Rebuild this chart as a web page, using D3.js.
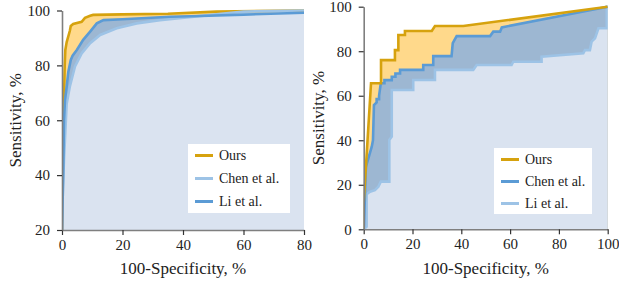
<!DOCTYPE html>
<html>
<head>
<meta charset="utf-8">
<script src="https://cdn.jsdelivr.net/npm/d3@7"></script>
<style>
  body { margin: 0; background: #fff; }
  svg text { font-family: "Liberation Serif", "DejaVu Serif", serif !important; }
</style>
</head>
<body>
<svg width="619" height="281"></svg>
<script>
// left panel (x: 100-Specificity, y: Sensitivity)
var oursLx = [0, 0.2, 0.45, 0.7, 0.9, 1.1, 1.55, 2.6, 2.9, 3.7, 6.5, 7.6, 9.3, 10.3, 20, 35, 51, 80];
var oursLy = [20, 45, 58, 70, 80, 85.6, 88.5, 92.6, 94.4, 95.1, 95.9, 97.3, 98.1, 98.4, 98.6, 98.8, 99.6, 100];
var chenLx = [0, 0.3, 0.66, 1.2, 1.55, 2.6, 4.3, 6.5, 9.3, 12.6, 18.1, 24.7, 32.4, 42, 51, 60, 80];
var chenLy = [20, 35, 45.6, 58, 66, 72.3, 79.6, 84.4, 88.1, 91.1, 93.5, 95.3, 96.5, 97.6, 98.6, 99.6, 100];
var liLx = [0, 0.2, 0.4, 0.66, 1, 1.55, 2.1, 2.9, 3.5, 4.9, 7, 9.3, 11.5, 13.7, 20, 35.7, 45.6, 60, 80];
var liLy = [20, 30, 40.9, 60, 67.5, 72.3, 77.7, 82, 83.5, 85.6, 89.3, 92.3, 95.3, 96.5, 96.8, 97.7, 98, 98.5, 99.2];

// right panel
var oursRx = [0, 0, 0.9, 3, 7.1, 7.1, 12.8, 12.8, 14.2, 14.2, 16.9, 16.9, 27.9, 29.2, 40.8, 100];
var oursRy = [0, 12, 28, 65.6, 65.6, 76, 76, 80.5, 80.5, 87.3, 87.3, 89.1, 89.1, 91.3, 91.3, 100];
var chenRx = [0, 0.1, 0.9, 3.3, 3.8, 4.2, 5.3, 5.3, 6.3, 6.3, 7, 8.5, 8.5, 11.5, 11.5, 13, 13, 14.9, 14.9, 24.4, 24.4, 28.5, 28.5, 36, 36.5, 38.1, 51.8, 53.1, 55.9, 56.6, 100];
var chenRy = [0, 1.2, 28, 37.1, 40, 55.8, 57, 58.5, 58.5, 60, 65.6, 65.6, 67, 67, 68.5, 68.5, 70, 70, 71.6, 71.6, 73.8, 73.8, 77.8, 77.8, 83.6, 86.8, 86.8, 88.8, 88.8, 90.7, 100];
var liRx = [0, 1.2, 1.2, 2.6, 4.6, 6, 7, 10.5, 10.5, 11.5, 11.5, 20.3, 20.3, 29.2, 29.2, 44.9, 46.3, 60.6, 61.3, 72.9, 72.9, 90, 90.7, 92.7, 93.4, 94.8, 95.5, 96.2, 99.6, 99.6, 100];
var liRy = [0, 1.2, 15.8, 16.9, 17.6, 19.1, 21.4, 21.4, 40.1, 41.6, 62.6, 62.6, 67.1, 67.1, 71.6, 71.6, 73.8, 73.8, 75.3, 75.3, 77.5, 79.1, 80.5, 80.5, 84.3, 85.8, 88, 90.3, 90.3, 100, 100];

var leftXTicks = [0, 20, 40, 60, 80];
var leftYTicks = [20, 40, 60, 80, 100];
var rightXTicks = [0, 20, 40, 60, 80, 100];
var rightYTicks = [0, 20, 40, 60, 80, 100];

var GOLD = "#d6a20e", DARKBLUE = "#5b9bd5", LIGHTBLUE = "#9dc3e6";
var ORANGEFILL = "#ffd98b", MIDFILL = "#9db7d2", PALEFILL = "#dae3f0";

function pts(xs, ys) {
  return xs.map(function (d, i) { return [d, ys[i]]; });
}

var svg = d3.select("svg");

function drawChart(o, id) {
  var x = d3.scaleLinear().domain(o.xDomain).range(o.xRange);
  var y = d3.scaleLinear().domain(o.yDomain).range(o.yRange);
  var g = svg.append("g");

  g.append("clipPath").attr("id", id)
    .append("rect")
    .attr("x", o.xRange[0]).attr("y", o.yRange[1] - 3)
    .attr("width", o.xRange[1] - o.xRange[0])
    .attr("height", o.yRange[0] - o.yRange[1] + 3);

  var area = d3.area()
    .x(function (d) { return x(d[0]); })
    .y0(y(o.yDomain[0]))
    .y1(function (d) { return y(d[1]); });
  var line = d3.line()
    .x(function (d) { return x(d[0]); })
    .y(function (d) { return y(d[1]); });

  var plot = g.append("g").attr("clip-path", "url(#" + id + ")");

  // fills from top curve to bottom curve
  o.fills.forEach(function (s) {
    plot.append("path").datum(s.data)
      .attr("d", area)
      .attr("fill", s.color);
  });
  o.lines.forEach(function (s) {
    plot.append("path").datum(s.data)
      .attr("d", line)
      .attr("fill", "none")
      .attr("stroke", s.color)
      .attr("stroke-width", 2.6);
  });

  var xAxis = g.append("g")
    .attr("transform", "translate(0," + o.yRange[0] + ")")
    .call(d3.axisBottom(x).tickValues(o.xTicks).tickSize(5).tickSizeOuter(0).tickPadding(4));
  var yAxis = g.append("g")
    .attr("transform", "translate(" + o.xRange[0] + ",0)")
    .call(d3.axisLeft(y).tickValues(o.yTicks).tickSize(5).tickSizeOuter(0).tickPadding(7));

  [xAxis, yAxis].forEach(function (a) {
    a.attr("font-family", null).attr("font-size", 15);
    a.select(".domain").attr("stroke", "#7f7f7f").attr("stroke-width", 1.6);
    a.selectAll(".tick line").attr("stroke", "#333").attr("stroke-width", 1.2);
    a.selectAll(".tick text").attr("fill", "#222");
  });

  g.append("text")
    .attr("x", (o.xRange[0] + o.xRange[1]) / 2)
    .attr("y", 274)
    .attr("text-anchor", "middle")
    .attr("font-size", 17).attr("fill", "#222")
    .text("100-Specificity, %");
  g.append("text")
    .attr("transform", "translate(" + o.yTitleX + "," + (o.yRange[0] + o.yRange[1]) / 2 + ") rotate(-90)")
    .attr("text-anchor", "middle")
    .attr("dy", "0.35em")
    .attr("font-size", 17).attr("fill", "#222")
    .text("Sensitivity, %");

  // legend
  var lg = g.append("g").attr("transform", "translate(" + o.legend[0] + "," + o.legend[1] + ")");
  lg.append("rect").attr("width", o.legend[2]).attr("height", o.legend[3]).attr("fill", "#fff");
  var item = lg.selectAll(".legend").data(o.legendItems).enter().append("g")
    .attr("class", "legend")
    .attr("transform", function (d, i) { return "translate(0," + (o.legendTop + i * o.legendStep) + ")"; });
  item.append("line")
    .attr("x1", 7).attr("x2", 25)
    .attr("stroke", function (d) { return d.color; })
    .attr("stroke-width", 3);
  item.append("text")
    .attr("x", 31).attr("dy", "0.35em")
    .attr("font-size", 14).attr("fill", "#222")
    .text(function (d) { return d.name; });
}

drawChart({
  xDomain: [0, 80], yDomain: [20, 100],
  xRange: [62, 304], yRange: [230, 10.5],
  xTicks: leftXTicks, yTicks: leftYTicks,
  yTitleX: 15,
  fills: [
    { data: pts(oursLx, oursLy), color: ORANGEFILL },
    { data: pts(liLx, liLy), color: MIDFILL },
    { data: pts(chenLx, chenLy), color: PALEFILL }
  ],
  lines: [
    { data: pts(oursLx, oursLy), color: GOLD },
    { data: pts(chenLx, chenLy), color: LIGHTBLUE },
    { data: pts(liLx, liLy), color: DARKBLUE }
  ],
  legend: [188, 144, 102, 69], legendTop: 11.5, legendStep: 23,
  legendItems: [
    { name: "Ours", color: GOLD },
    { name: "Chen et al.", color: LIGHTBLUE },
    { name: "Li et al.", color: DARKBLUE }
  ]
}, "clipL");

drawChart({
  xDomain: [0, 100], yDomain: [0, 100],
  xRange: [363.7, 607.7], yRange: [229.3, 6.7],
  xTicks: rightXTicks, yTicks: rightYTicks,
  yTitleX: 318,
  fills: [
    { data: pts(oursRx, oursRy), color: ORANGEFILL },
    { data: pts(chenRx, chenRy), color: MIDFILL },
    { data: pts(liRx, liRy), color: PALEFILL }
  ],
  lines: [
    { data: pts(liRx, liRy), color: LIGHTBLUE },
    { data: pts(chenRx, chenRy), color: DARKBLUE },
    { data: pts(oursRx, oursRy), color: GOLD }
  ],
  legend: [494, 148, 98, 66], legendTop: 11.5, legendStep: 22,
  legendItems: [
    { name: "Ours", color: GOLD },
    { name: "Chen et al.", color: DARKBLUE },
    { name: "Li et al.", color: LIGHTBLUE }
  ]
}, "clipR");
</script>
</body>
</html>
